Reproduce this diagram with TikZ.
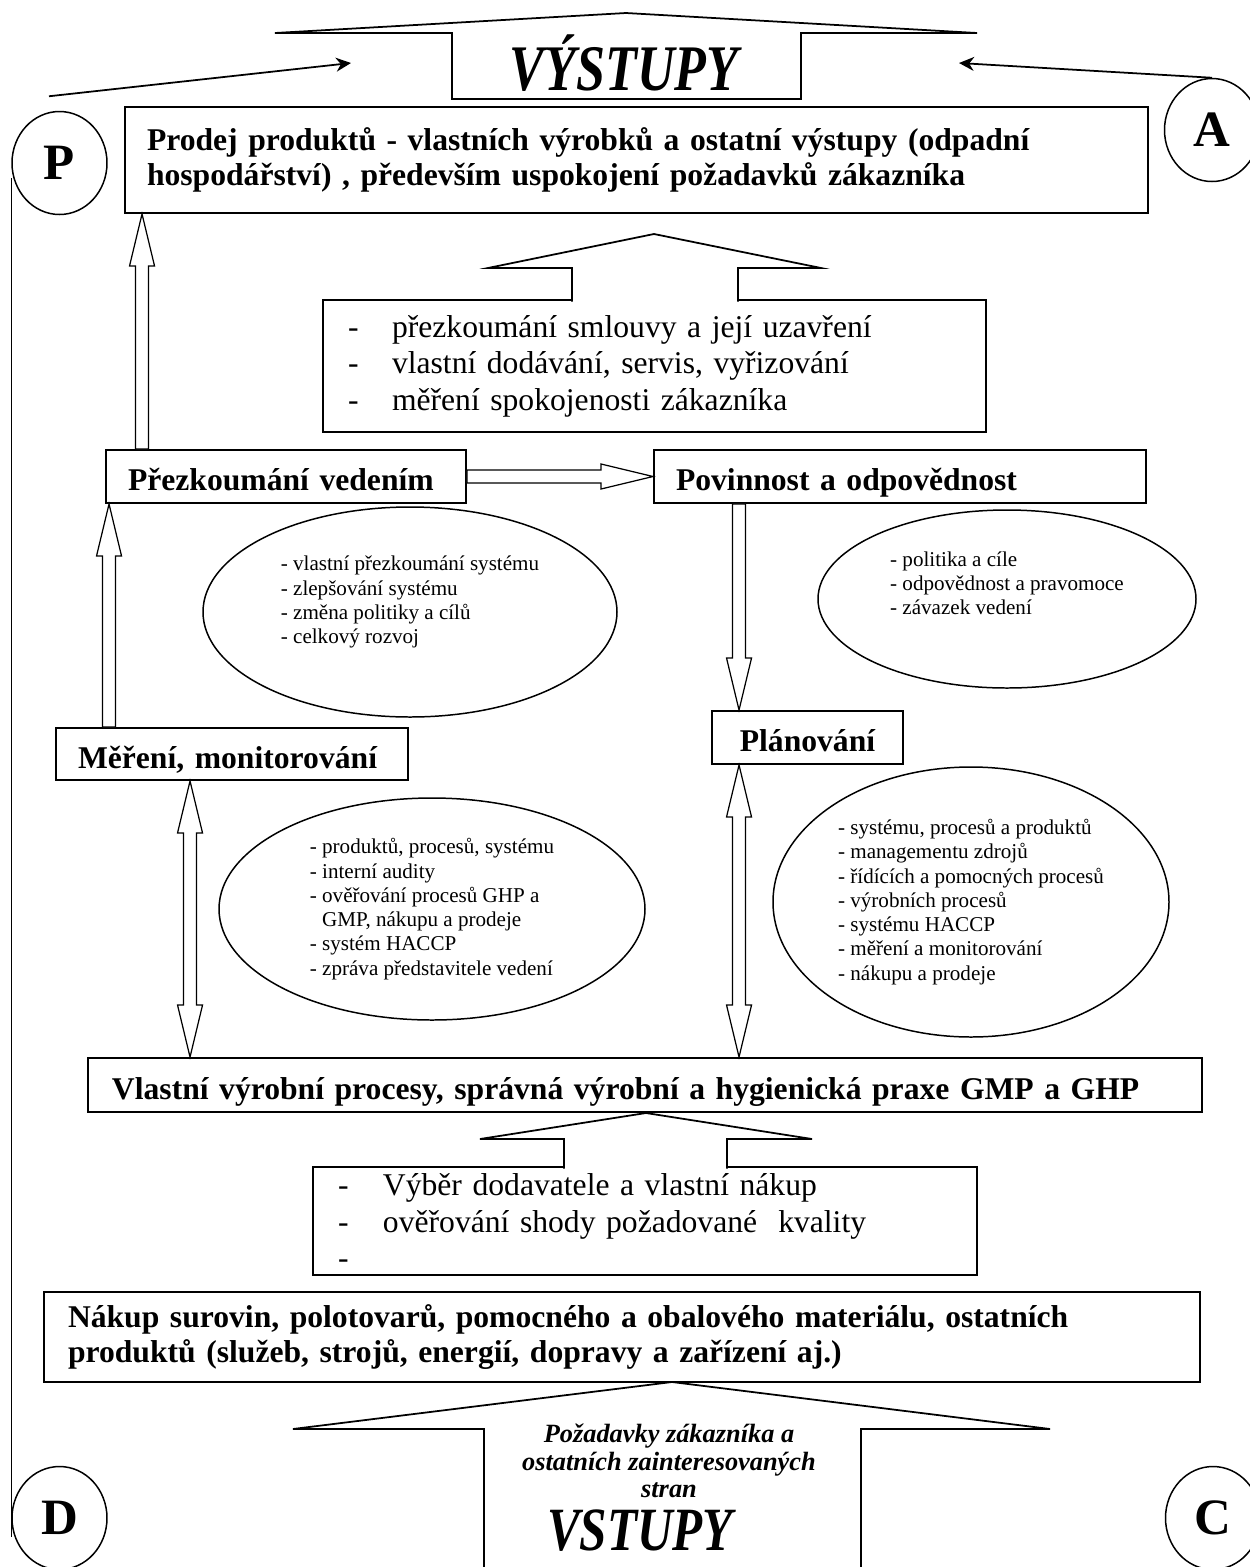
\documentclass[tikz,border=0pt]{standalone}
\usepackage{fontspec}
\setmainfont{Liberation Serif}
\newfontfamily\condserif{Liberation Serif}[FakeStretch=0.8]
\usetikzlibrary{arrows.meta,positioning,shapes.geometric,calc}

% sizes of the hollow arrows
\newcommand{\shaftw}{0.13cm}
\newcommand{\headw}{0.25cm}
\newcommand{\headl}{1.04cm}

% hollow arrow from #1 to #2
\newcommand{\hollowarrow}[2]{%
  \coordinate (ha-s) at (#1);
  \coordinate (ha-e) at (#2);
  \coordinate (ha-n) at ($(ha-e)!\headl!(ha-s)$);
  \draw[hollow] ($(ha-s)!\shaftw!90:(ha-e)$) -- ($(ha-n)!\shaftw!-90:(ha-s)$)
    -- ($(ha-n)!\headw!-90:(ha-s)$) -- (ha-e) -- ($(ha-n)!\headw!90:(ha-s)$)
    -- ($(ha-n)!\shaftw!90:(ha-s)$) -- ($(ha-s)!\shaftw!-90:(ha-e)$) -- cycle;
}
% hollow arrow with two heads
\newcommand{\hollowdarrow}[2]{%
  \coordinate (ha-s) at (#1);
  \coordinate (ha-e) at (#2);
  \coordinate (ha-m) at ($(ha-s)!\headl!(ha-e)$);
  \coordinate (ha-n) at ($(ha-e)!\headl!(ha-s)$);
  \draw[hollow] (ha-s) -- ($(ha-m)!\headw!90:(ha-e)$) -- ($(ha-m)!\shaftw!90:(ha-e)$)
    -- ($(ha-n)!\shaftw!-90:(ha-s)$) -- ($(ha-n)!\headw!-90:(ha-s)$) -- (ha-e)
    -- ($(ha-n)!\headw!90:(ha-s)$) -- ($(ha-n)!\shaftw!90:(ha-s)$)
    -- ($(ha-m)!\shaftw!-90:(ha-e)$) -- ($(ha-m)!\headw!-90:(ha-e)$) -- cycle;
}

\begin{document}
\begin{tikzpicture}[
  box/.style={rectangle, draw, line width=1.1pt, align=left, inner xsep=0.44cm, inner ysep=0pt, font=\bfseries\fontsize{18}{20}\selectfont},
  oneline/.style={text height=17.5pt, text depth=1.5pt},
  listbox/.style={rectangle, draw, line width=1.1pt, align=left, inner xsep=0.5cm, inner ysep=0pt, font=\fontsize{18}{20.8}\selectfont},
  oval/.style={ellipse, draw, line width=0.85pt, inner sep=0pt, align=left, font=\fontsize{12}{13.8}\selectfont},
  letter/.style={ellipse, draw, line width=0.85pt, inner sep=0pt, minimum width=1.9cm, minimum height=2.06cm, font=\bfseries\fontsize{29}{30}\selectfont},
  bigword/.style={anchor=base, inner sep=0pt, font=\condserif\bfseries\itshape\fontsize{37}{40}\selectfont},
  hollow/.style={draw, line width=0.7pt, fill=white},
  blockarr/.style={draw, line width=1pt, fill=white},
  arr/.style={-{Stealth[length=3mm, width=2.8mm]}, line width=1pt},
]
  \useasboundingbox (0,0) rectangle (25,-31.34);

  % PDCA letters
  \node[letter] (P) at (1.19,-3.26) {P};
  \node[letter] (A) at (24.24,-2.6) {A};
  \node[letter] (D) at (1.19,-30.36) {D};
  \node[letter] (C) at (24.26,-30.36) {C};

  % outputs
  \draw[blockarr] (9.04,-1.98) -- (9.04,-0.66) -- (5.5,-0.66) -- (12.52,-0.26) -- (19.54,-0.66) -- (16.02,-0.66) -- (16.02,-1.98) -- cycle;
  \node[bigword] (vystupy) at (12.48,-1.8) {VÝSTUPY};

  \node[box, text width=19.58cm, minimum height=2.12cm] (prodej) at (12.73,-3.2)
    {Prodej produktů - vlastních výrobků a ostatní výstupy (odpadní\\hospodářství) , především uspokojení požadavků zákazníka};

  % customer related processes
  \node[listbox, text width=12.26cm, minimum height=2.64cm] (smlouva) at (13.09,-7.32)
    {\makebox[0.88cm][l]{-}přezkoumání smlouvy a její uzavření\\
     \makebox[0.88cm][l]{-}vlastní dodávání, servis, vyřizování\\
     \makebox[0.88cm][l]{-}měření spokojenosti zákazníka};
  \draw[blockarr] (11.44,-6.03) -- (11.44,-5.36) -- (9.76,-5.36) -- (13.08,-4.68) -- (16.42,-5.36) -- (14.76,-5.36) -- (14.76,-6.03);

  % management
  \node[box, oneline, text width=6.32cm, minimum height=1.06cm] (prez) at (5.72,-9.53) {Přezkoumání vedením};
  \node[box, oneline, text width=8.96cm, minimum height=1.06cm] (pov) at (18.0,-9.53) {Povinnost a odpovědnost};
  \node[box, oneline, text width=6.16cm, minimum height=1.04cm] (mereni) at (4.64,-15.08) {Měření, monitorování};
  \node[box, oneline, text width=2.94cm, minimum height=1.06cm, align=center] (plan) at (16.15,-14.75) {Plánování};

  \node[oval, minimum width=8.28cm, minimum height=4.2cm] (ovprez) at (8.2,-12.24)
    {- vlastní přezkoumání systému\\- zlepšování systému\\- změna politiky a cílů\\- celkový rozvoj\\\mbox{}};
  \node[oval, minimum width=7.56cm, minimum height=3.56cm] (ovpov) at (20.14,-11.98)
    {- politika a cíle\\- odpovědnost a pravomoce\\- závazek vedení\\[4pt]\mbox{}};
  \node[oval, minimum width=8.52cm, minimum height=4.44cm] (ovmer) at (8.64,-18.18)
    {- produktů, procesů, systému\\- interní audity\\- ověřování procesů GHP a\\\hphantom{- }GMP, nákupu a prodeje\\- systém HACCP\\- zpráva představitele vedení};
  \node[oval, minimum width=7.92cm, minimum height=5.4cm] (ovplan) at (19.42,-18.04)
    {- systému, procesů a produktů\\- managementu zdrojů\\- řídících a pomocných procesů\\- výrobních procesů\\- systému HACCP\\- měření a monitorování\\- nákupu a prodeje};

  % production and purchase
  \node[box, oneline, text width=21.32cm, minimum height=1.08cm, inner xsep=0.48cm] (vlastni) at (12.9,-21.7)
    {Vlastní výrobní procesy, správná výrobní a hygienická praxe GMP a GHP};
  \node[listbox, text width=12.28cm, minimum height=2.16cm] (dodavatel) at (12.9,-24.42)
    {\makebox[0.9cm][l]{-}Výběr dodavatele a vlastní nákup\\
     \makebox[0.9cm][l]{-}ověřování shody požadované~ kvality\\
     -};
  \draw[blockarr] (11.28,-23.37) -- (11.28,-22.78) -- (9.6,-22.78) -- (12.92,-22.26) -- (16.24,-22.78) -- (14.54,-22.78) -- (14.54,-23.37);
  \node[box, text width=22.16cm, minimum height=1.8cm, inner xsep=0.48cm] (nakup) at (12.44,-26.74)
    {Nákup surovin, polotovarů, pomocného a obalového materiálu, ostatních\\produktů (služeb, strojů, energií, dopravy a zařízení aj.)};

  % inputs
  \draw[blockarr] (9.68,-31.5) -- (9.68,-28.58) -- (5.86,-28.58) -- (13.44,-27.64) -- (21.0,-28.58) -- (17.22,-28.58) -- (17.22,-31.5);
  \node[align=center, inner sep=0pt, font=\bfseries\itshape\fontsize{15}{15.6}\selectfont] (pozadavky) at (13.38,-29.22)
    {Požadavky zákazníka a\\ostatních zainteresovaných\\stran};
  \node[bigword, font=\condserif\bfseries\itshape\fontsize{35}{38}\selectfont] (vstupy) at (12.8,-31.0) {VSTUPY};

  % hollow arrows between the boxes
  \coordinate (upx) at ([xshift=0.74cm]prez.north west);
  \hollowarrow{upx}{upx |- prodej.south}
  \coordinate (mx) at ([xshift=1.08cm]mereni.north west);
  \hollowarrow{mx}{mx |- prez.south}
  \hollowarrow{prez.east}{pov.west}
  \coordinate (px) at ([xshift=1.72cm]pov.south west);
  \hollowarrow{px}{px |- plan.north}
  \coordinate (mlx) at ([xshift=2.7cm]mereni.south west);
  \hollowdarrow{mlx}{mlx |- vlastni.north}
  \coordinate (plx) at ([xshift=0.56cm]plan.south west);
  \hollowdarrow{plx}{plx |- vlastni.north}

  % PDCA links
  \coordinate (pl) at ([shift={(-0.21,0.29)}]P.north);
  \coordinate (vl) at (7.02,-1.26);
  \coordinate (vr) at (19.18,-1.26);
  \draw[arr] (pl) -- (vl);
  \draw[arr] (A.north) -- (vr);
  \draw[line width=0.85pt] ([yshift=-0.3cm]P.west) -- ([yshift=-0.38cm]D.west);
\end{tikzpicture}
\end{document}
